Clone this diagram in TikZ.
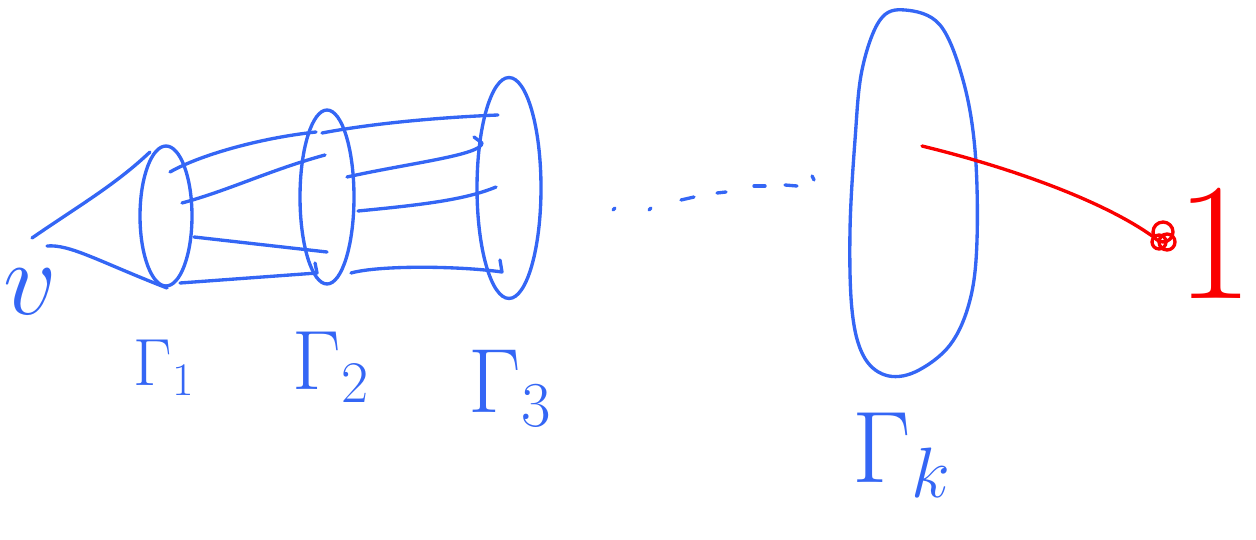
\RequirePackage{fix-cm}
\documentclass[tikz,border=0pt]{standalone}
\usetikzlibrary{shapes.geometric}
\definecolor{penblue}{RGB}{52,102,245}
\definecolor{penred}{RGB}{250,0,0}

\begin{document}
\begin{tikzpicture}[x=0.02cm, y=-0.02cm, line cap=round, line join=round,
    pen/.style={penblue, line width=1.9pt},
    wire/.style={penred, line width=1.9pt},
    ring/.style={pen, draw, ellipse, inner sep=0pt},
    lbl/.style={text=penblue, inner sep=0pt}]
    \useasboundingbox (0,0) rectangle (1256,540);

    % Sets Gamma_1, Gamma_2, Gamma_3
    \node[ring, minimum width=1.04cm, minimum height=2.8cm] (g1) at (166,216) {};
    \node[ring, minimum width=1.08cm, minimum height=3.48cm] (g2) at (327,197) {};
    \node[ring, minimum width=1.28cm, minimum height=4.42cm] (g3) at (509,188) {};

    % Set Gamma_k
    \draw[pen] plot[smooth cycle, tension=0.6] coordinates {(905,10) (940,25) (963,80) (975,150)
        (977,240) (970,300) (950,345) (915,372) (885,375) (863,355) (852,310) (850,230)
        (855,140) (862,70) (880,20)};

    % Start point v and its cone
    \coordinate (v) at (32,238);
    \coordinate (vlow) at (47,246);
    \coordinate (cone1) at (150,152);
    \coordinate (cone2) at (167,288);
    \draw[pen] (v) .. controls (80,205) and (115,185) .. (cone1);
    \draw[pen] (vlow) .. controls (70,244) and (100,262) .. (cone2);

    % Links Gamma_1 -> Gamma_2
    \coordinate (a1) at (170,172);  \coordinate (b1) at (316,132);
    \coordinate (a2) at (182,203);  \coordinate (b2) at (325,155);
    \coordinate (a3) at (194,237);  \coordinate (b3) at (327,252);
    \coordinate (a4) at (180,283);  \coordinate (b4) at (317,273);
    \draw[pen] (a1) .. controls (200,155) and (260,138) .. (b1);
    \draw[pen] (a2) .. controls (230,190) and (270,170) .. (b2);
    \draw[pen] (a3) -- (b3);
    \draw[pen] (a4) -- (b4) -- ++(-2,-10);

    % Links Gamma_2 -> Gamma_3
    \coordinate (c1) at (322,133);  \coordinate (d1) at (498,115);
    \coordinate (c2) at (347,177);  \coordinate (d2) at (482,143);
    \coordinate (c3) at (358,211);  \coordinate (d3) at (496,187);
    \coordinate (c4) at (351,273);  \coordinate (d4) at (502,272);
    \draw[pen] (c1) .. controls (380,122) and (450,117) .. (d1);
    \draw[pen] (c2) .. controls (410,163) and (482,155) .. (d2) -- ++(-8,-6);
    \draw[pen] (c3) .. controls (420,205) and (465,200) .. (d3);
    \draw[pen] (c4) .. controls (380,265) and (460,266) .. (d4) -- ++(-2,-12);

    % Dots towards Gamma_k
    \foreach \xa/\ya/\xb/\yb in {613/210/615/208, 649/210/651/208, 681/200/694/197,
        717/193/726/192, 754/186/765/186, 785/185/797/186, 812/176/814/180}
        \draw[pen] (\xa,\ya) -- (\xb,\yb);

    % Red path out of Gamma_k
    \coordinate (src) at (922,146);
    \coordinate (knot) at (1155,238);
    \draw[wire] (src) .. controls (1000,165) and (1100,198) .. (knot);
    \draw[wire] (knot) ++(8,-6) circle[radius=0.2cm];
    \draw[wire] (knot) ++(12,4) circle[radius=0.16cm];
    \draw[wire] (knot) ++(4,4) circle[radius=0.14cm];

    % Labels
    \node[lbl, font=\fontsize{60}{60}\selectfont] (vlbl) at (30,292) {$v$};
    \node[lbl, font=\fontsize{38}{38}\selectfont] (l1) at (164,368) {$\Gamma_1$};
    \node[lbl, font=\fontsize{48}{48}\selectfont] (l2) at (331,367) {$\Gamma_2$};
    \node[lbl, font=\fontsize{52}{52}\selectfont] (l3) at (510,388) {$\Gamma_3$};
    \node[lbl, font=\fontsize{58}{58}\selectfont] (lk) at (902,455) {$\Gamma_k$};
    \node[text=penred, inner sep=0pt, font=\fontsize{95}{95}\selectfont] (one) at (1215,243) {1};
\end{tikzpicture}
\end{document}
